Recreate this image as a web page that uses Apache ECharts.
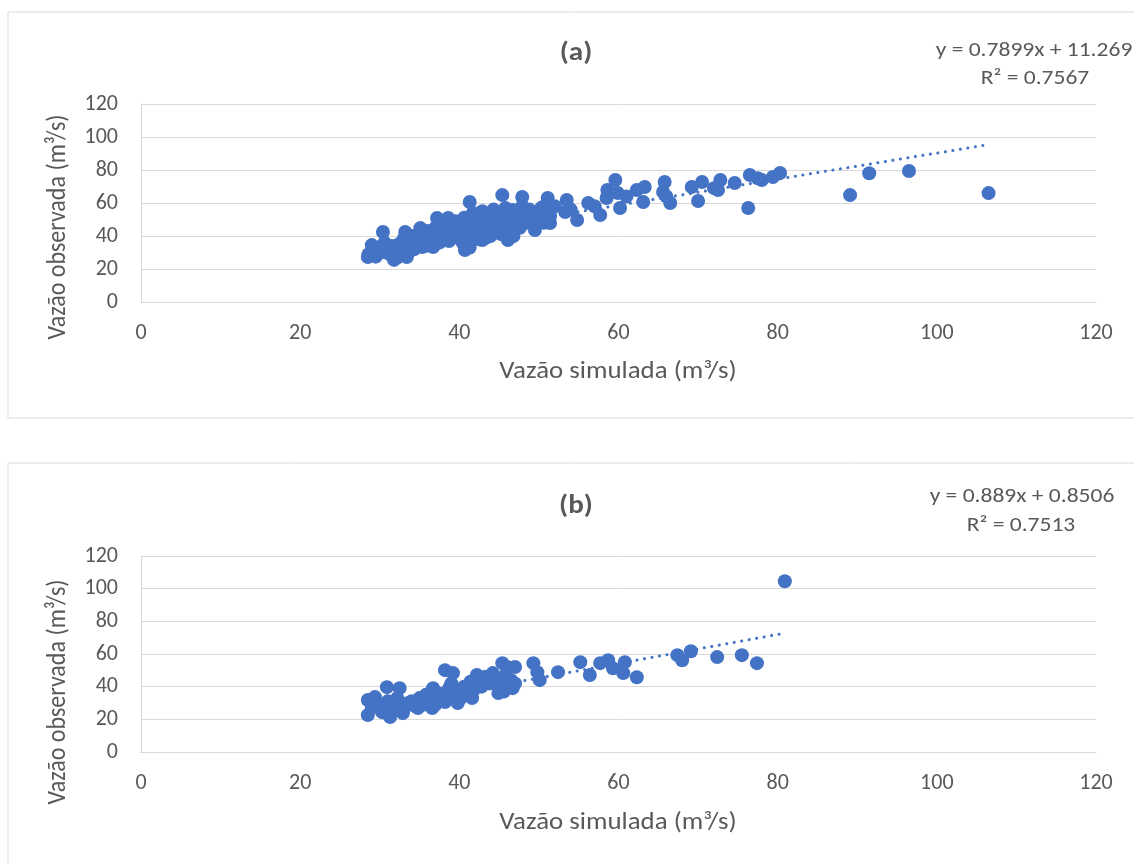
<!DOCTYPE html>
<html>
<head>
<meta charset="utf-8">
<script src="https://cdn.jsdelivr.net/npm/echarts@6/dist/echarts.min.js"></script>
<style>
  html, body { margin: 0; padding: 0; background: #fff; }
  #chart { width: 1134px; height: 863px; }
</style>
</head>
<body>
<div id="chart"></div>
<script>
// painel (a): [vazão simulada, vazão observada]
const pointsA = [
  [28.5,27.3],[29.0,34.5],[30.4,42.4],[31.8,25.5],[33.4,27.3],[33.2,42.4],[35.1,44.8],[37.2,50.9],
  [38.6,50.9],[41.3,60.6],[40.7,31.5],[45.4,64.8],[42.9,37.6],[36.7,33.3],[35.3,33.3],
  [47.9,63.6],[46.1,37.6],[49.5,43.6],[51.1,63.0],[50.5,57.6],[51.4,47.9],[53.5,61.8],[53.3,54.5],
  [54.8,49.7],[56.2,60.0],[57.7,52.7],[58.6,67.9],[59.6,73.9],[59.9,66.1],[60.2,57.0],[62.3,67.9],
  [63.3,69.7],[63.1,60.6],[48.6,53.9],[48.0,47.9],[46.7,55.8],
  [65.8,72.7],[65.6,66.7],[66.5,60.0],[69.2,69.7],[70.5,72.7],[70.0,61.2],[72.8,73.9],[72.5,67.9],
  [74.6,72.1],[76.5,77.0],[76.3,57.0],[78.0,73.9],[80.3,78.2],[79.4,75.8],
  [89.1,64.8],[91.5,78.0],[96.5,79.4],[106.5,66.0],
  [28.6,29],[29.2,31],[29.5,27.5],[29.8,33],[30.1,30],[30.6,36],[30.9,32],[31.2,29],[31.5,34],
  [31.9,31],[32.2,27],[32.4,35],[32.7,30],[33.0,38],[33.3,33],[33.6,30],[33.8,36],[34.1,40],
  [34.3,32],[34.6,37],[34.9,35],[35.2,41],[35.5,38],[35.8,34],[36.0,43],[36.3,39],[36.5,36],
  [36.8,41],[37.0,45],[37.3,38],[37.6,42],[37.9,47],[38.1,40],[38.4,44],[38.7,37],[39.0,46],
  [39.2,42],[39.5,49],[39.8,39],[40.0,44],[40.2,47],[40.4,36],[40.6,51],[40.9,42],[41.1,46],
  [41.3,33],[41.5,49],[41.7,54],[41.9,40],[42.1,44],[42.3,52],[42.5,38],[42.7,47],[42.9,55],
  [43.1,42],[43.3,50],[43.5,45],[43.7,53],[43.9,40],[44.1,48],[44.3,56],[44.5,43],[44.7,51],
  [44.9,46],[45.1,54],[45.3,41],[45.6,49],[45.8,57],[46.0,44],[46.3,52],[46.5,47],[46.8,40],
  [47.0,55],[47.3,50],[47.6,45],[47.9,58],[48.2,52],[48.5,48],[48.8,56],[49.1,50],[49.4,46],
  [49.7,54],[50.0,51],[50.3,57],[50.6,48],[51.0,55],[51.4,52],[52.0,58],[54.0,56],[57.0,58],
  [58.5,63],[61.0,64],[66.0,64],[72.0,69],[77.5,75],
  [34.0,34],[35.0,39],[36.2,41],[37.5,36],[38.3,47],[39.4,44],[40.3,40],[41.6,44],[42.6,49],
  [43.4,39],[44.6,45],[45.5,52],[46.6,50],[47.5,53],[48.4,50],[49.0,53]
]

// painel (b)
const pointsB = [
  [28.5,22.6],[28.5,31.8],[29.4,33.6],[30.9,39.7],[32.5,39.1],[31.3,21.4],[30.3,24.4],[32.9,23.8],
  [34.8,26.9],[36.6,26.9],[36.7,39.1],[38.2,50.1],[39.2,48.3],[38.8,39.7],[41.6,33.0],[42.2,47.1],
  [44.2,48.3],[45.4,54.4],[44.9,36.1],[38.2,30.6],[39.8,30.0],[35.3,30.6],[33.6,30.0],
  [46.0,52.0],[47.0,52.0],[45.6,37.0],[46.7,39.1],[49.3,54.4],[50.1,44.0],[49.8,48.9],[52.4,48.9],
  [55.2,55.0],[56.4,47.1],[57.7,54.4],[58.7,56.2],[59.3,51.3],[60.8,55.0],[60.6,48.3],[62.3,45.8],
  [67.4,59.3],[68.0,56.2],[69.1,61.7],[72.4,58.1],[75.5,59.3],[77.4,54.4],[80.9,104.5],
  [29.0,27],[29.8,29],[30.5,26],[31.0,31],[31.8,28],[32.2,33],[33.0,26],[33.5,29],[34.0,31],
  [34.5,28],[35.0,33],[35.5,29],[35.8,35],[36.2,31],[36.5,37],[37.0,29],[37.3,34],[37.6,32],
  [38.0,36],[38.5,33],[39.0,42],[39.4,35],[39.8,38],[40.2,33],[40.6,40],[41.0,36],[41.4,43],
  [41.8,38],[42.4,44],[42.8,40],[43.3,46],[43.8,42],[44.5,45],[45.0,41],[45.8,47],[46.5,44],[47.0,42]
]

// linhas de tendência (equação do Excel)
const trendA = { slope: 0.7899, intercept: 11.269, r2: '0.7567' }
const trendB = { slope: 0.889, intercept: 0.8506, r2: '0.7513' }

const axisTicks = { min: 0, max: 120, interval: 20 }

const FONT = 'Carlito, Calibri, Lato, sans-serif'
const GRAY = '#595959'
const BLUE = '#4472C4'
const STRETCH = 1.12 // a figura original está um pouco esticada na horizontal

const trendLine = (pts, t) => {
  const xs = pts.map(p => p[0])
  const x0 = Math.min(...xs)
  const x1 = Math.max(...xs)
  return [[x0, t.slope * x0 + t.intercept], [x1, t.slope * x1 + t.intercept]]
}

const chart = echarts.init(document.getElementById('chart'))

const xAxisCfg = (gridIndex) => ({
  type: 'value',
  gridIndex,
  min: axisTicks.min,
  max: axisTicks.max,
  interval: axisTicks.interval,
  axisLine: { show: true, lineStyle: { color: '#d9d9d9', width: 1 } },
  axisTick: { show: false },
  splitLine: { show: false },
  axisLabel: { color: GRAY, fontSize: 22, fontFamily: FONT, margin: 20 }
})

const yAxisCfg = (gridIndex) => ({
  type: 'value',
  gridIndex,
  min: axisTicks.min,
  max: axisTicks.max,
  interval: axisTicks.interval,
  axisLine: { show: true, lineStyle: { color: '#d9d9d9', width: 1 } },
  axisTick: { show: false },
  splitLine: { show: true, lineStyle: { color: '#d9d9d9', width: 1 } },
  axisLabel: { color: GRAY, fontSize: 22, fontFamily: FONT, margin: 23 }
})

const txt = (x, y, text, opts = {}) => {
  const rotated = !!opts.rotation
  return {
    type: 'text',
    x, y,
    rotation: opts.rotation || 0,
    scaleX: rotated ? 1 : STRETCH,
    scaleY: rotated ? STRETCH : 1,
    style: {
      text,
      fill: GRAY,
      font: `${opts.bold ? 'bold ' : ''}${opts.size || 21}px ${FONT}`,
      textAlign: 'center',
      textVerticalAlign: 'middle'
    }
  }
}

const option = {
  animation: false,
  backgroundColor: '#fff',
  grid: [
    { left: 141, top: 104, width: 955, height: 198 },
    { left: 141, top: 556, width: 955, height: 196 }
  ],
  xAxis: [xAxisCfg(0), xAxisCfg(1)],
  yAxis: [yAxisCfg(0), yAxisCfg(1)],
  graphic: [
    { type: 'rect', shape: { x: 8, y: 12, width: 1140, height: 406 }, style: { fill: 'none', stroke: '#d9d9d9', lineWidth: 1 } },
    { type: 'rect', shape: { x: 8, y: 463, width: 1140, height: 420 }, style: { fill: 'none', stroke: '#d9d9d9', lineWidth: 1 } },
    txt(576, 53, '(a)', { bold: true, size: 26 }),
    txt(576, 506, '(b)', { bold: true, size: 26 }),
    txt(1034, 51, `y = ${trendA.slope}x + ${trendA.intercept}`),
    txt(1035, 79, `R² = ${trendA.r2}`),
    txt(1022, 497, `y = ${trendB.slope}x + ${trendB.intercept}`),
    txt(1021, 526, `R² = ${trendB.r2}`),
    txt(618, 372, 'Vazão simulada (m³/s)', { size: 24 }),
    txt(618, 823, 'Vazão simulada (m³/s)', { size: 24 }),
    txt(58, 227, 'Vazão observada (m³/s)', { size: 24, rotation: Math.PI / 2 }),
    txt(58, 692, 'Vazão observada (m³/s)', { size: 24, rotation: Math.PI / 2 })
  ],
  series: [
    {
      type: 'line', xAxisIndex: 0, yAxisIndex: 0, z: 2,
      data: trendLine(pointsA, trendA), symbol: 'none',
      lineStyle: { color: BLUE, width: 3, type: [0.1, 7.5], cap: 'round' }
    },
    {
      type: 'scatter', xAxisIndex: 0, yAxisIndex: 0, z: 3,
      data: pointsA, symbolSize: 14, itemStyle: { color: BLUE, opacity: 1 }
    },
    {
      type: 'line', xAxisIndex: 1, yAxisIndex: 1, z: 2,
      data: trendLine(pointsB, trendB), symbol: 'none',
      lineStyle: { color: BLUE, width: 3, type: [0.1, 7.5], cap: 'round' }
    },
    {
      type: 'scatter', xAxisIndex: 1, yAxisIndex: 1, z: 3,
      data: pointsB, symbolSize: 14, itemStyle: { color: BLUE, opacity: 1 }
    }
  ]
}

chart.setOption(option)
</script>
</body>
</html>
